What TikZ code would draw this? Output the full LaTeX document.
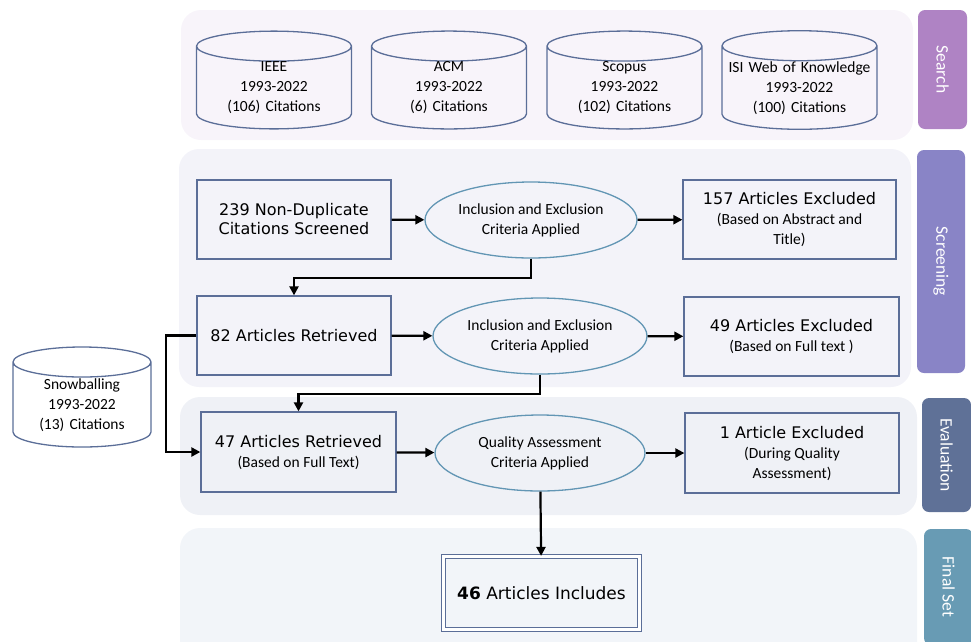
\documentclass[tikz,border=0pt]{standalone}
\usepackage{fontspec}
\setmainfont{Carlito}
\newfontfamily\dvsans{DejaVu Sans}
\usetikzlibrary{shapes.geometric,arrows.meta}
\definecolor{bandsearch}{RGB}{248,244,250}
\definecolor{bandscreen}{RGB}{243,243,249}
\definecolor{bandeval}{RGB}{239,241,246}
\definecolor{bandfinal}{RGB}{242,245,249}
\definecolor{tabsearch}{RGB}{175,131,196}
\definecolor{tabscreen}{RGB}{137,132,198}
\definecolor{tabeval}{RGB}{95,113,151}
\definecolor{tabfinal}{RGB}{104,155,180}
\definecolor{boxline}{RGB}{91,110,152}
\definecolor{ellline}{RGB}{98,150,180}
\newcommand\txtsmall{\fontsize{15.5}{20}\selectfont}
\newcommand\txtbig{\dvsans\fontsize{16}{20}\selectfont}
\tikzset{
  db/.style={cylinder,shape border rotate=90,aspect=0.3,draw=boxline,line width=1.3pt,
    minimum width=155pt,minimum height=96pt,inner sep=0pt,text width=100pt,align=center,
    font=\txtsmall,anchor=shape center},
  stage/.style={rectangle,draw=boxline,line width=1.3pt,minimum width=194pt,minimum height=79pt,
    inner sep=0pt,align=center,font=\txtsmall},
  crit/.style={ellipse,draw=ellline,line width=1.3pt,minimum width=212pt,minimum height=76pt,
    inner sep=0pt,align=center,font=\txtsmall},
  tab/.style={rectangle,rounded corners=7pt,rotate=-90,text=white,
    font=\fontsize{17.5}{20}\selectfont,inner sep=0pt},
  flow/.style={line width=2.2pt,-{Triangle[length=9pt,width=9pt]}}
}
\begin{document}
\begin{tikzpicture}[x=1pt,y=-1pt]
\useasboundingbox (0,0) rectangle (971,641);
\fill[bandsearch,rounded corners=20pt] (181,10) rectangle (913,140);
\fill[bandscreen,rounded corners=20pt] (179,149) rectangle (911,387);
\fill[bandeval,rounded corners=20pt] (180,397) rectangle (917,515);
\fill[bandfinal,rounded corners=20pt] (180,528) rectangle (917,670);
\node[tab,fill=tabsearch,minimum width=119pt,minimum height=49pt] (search) at (942.5,69.5) {Search};
\node[tab,fill=tabscreen,minimum width=223pt,minimum height=48pt] (screening) at (941,261.5) {Screening};
\node[tab,fill=tabeval,minimum width=114pt,minimum height=49pt] (evaluation) at (946.5,455) {Evaluation};
\node[tab,fill=tabfinal,minimum width=116pt,minimum height=49pt] (finalset) at (948.5,587) {Final Set};
\node[db] (ieee) at (274,80) {IEEE\\1993-2022\\(106) Citations};
\node[db] (acm) at (449,80) {ACM\\1993-2022\\(6) Citations};
\node[db] (scopus) at (624.5,80) {Scopus\\1993-2022\\(102) Citations};
\node[db] (isi) at (799.5,80) {\makebox[100pt]{ISI Web of Knowledge}\\1993-2022\\(100) Citations};
\node[db,minimum width=138pt,minimum height=100pt] (snow) at (82,397) {Snowballing\\1993-2022\\(13) Citations};
\node[stage,font=\dvsans\fontsize{16}{19}\selectfont] (screened) at (294,219.5) {239 Non-Duplicate\\Citations Screened};
\node[crit] (crit1) at (531,220) {Inclusion and Exclusion\\Criteria Applied};
\node[stage,minimum width=213pt] (excl1) at (789.5,219.5) {{\txtbig 157 Articles Excluded}\\(Based on Abstract and\\Title)};
\node[stage,font=\txtbig] (retr1) at (294,335.5) {82 Articles Retrieved};
\node[crit,minimum width=214pt] (crit2) at (540,336) {Inclusion and Exclusion\\Criteria Applied};
\node[stage,minimum width=215pt] (excl2) at (791.5,336.5) {{\txtbig 49 Articles Excluded}\\(Based on Full text )};
\node[stage,minimum width=195pt,minimum height=80pt] (retr2) at (298.5,452) {{\txtbig 47 Articles Retrieved}\\(Based on Full Text)};
\node[crit,minimum width=210pt] (crit3) at (540,453) {Quality Assessment\\Criteria Applied};
\node[stage,minimum width=214pt,minimum height=80pt] (excl3) at (792,453) {{\txtbig 1 Article Excluded}\\(During Quality\\Assessment)};
\node[stage,double=white,double distance=3pt,line width=1.2pt,minimum width=196pt,minimum height=73pt,
  font=\dvsans\fontsize{17}{20}\selectfont] (final) at (541.5,593) {\textbf{46} Articles Includes};
\draw[flow] (screened) -- (crit1);
\draw[flow] (crit1) -- (excl1);
\draw[flow] (crit1.south) -- ++(0,19) -| (retr1.north);
\draw[flow] (retr1) -- (crit2);
\draw[flow] (crit2) -- (excl2);
\draw[flow] (crit2.south) -- ++(0,19) -| (retr2.north);
\draw[flow] (retr1.west) -- ++(-30,0) |- (retr2.west);
\draw[flow] (retr2) -- (crit3);
\draw[flow] (crit3) -- (excl3);
\draw[flow] (crit3) -- (final);
\end{tikzpicture}
\end{document}
